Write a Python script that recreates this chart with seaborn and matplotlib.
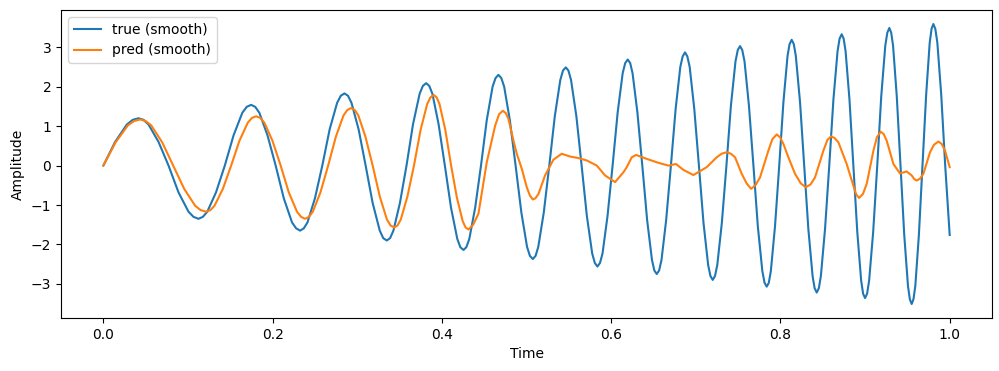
import matplotlib
matplotlib.use("Agg")
import matplotlib.pyplot as plt
import seaborn as sns
import pandas as pd

# ---- data ----
true_t = [
    0.0, 0.0139, 0.0277, 0.0416,
    0.0534, 0.0652, 0.0770, 0.0888, 0.1006, 0.1124,
    0.1228, 0.1331, 0.1435, 0.1539, 0.1642, 0.1746,
    0.1843, 0.1939, 0.2036, 0.2132, 0.2229, 0.2325,
    0.2412, 0.2500, 0.2587, 0.2674, 0.2762, 0.2849,
    0.2932, 0.3016, 0.3099, 0.3182, 0.3266, 0.3349,
    0.3427, 0.3504, 0.3582, 0.3659, 0.3737, 0.3814,
    0.3888, 0.3961, 0.4035, 0.4108, 0.4182, 0.4255,
    0.4324, 0.4393, 0.4462, 0.4530, 0.4599, 0.4668,
    0.4736, 0.4803, 0.4871, 0.4939, 0.5006, 0.5074,
    0.5139, 0.5204, 0.5269, 0.5334, 0.5399, 0.5464,
    0.5526, 0.5589, 0.5651, 0.5713, 0.5776, 0.5838,
    0.5898, 0.5957, 0.6017, 0.6077, 0.6136, 0.6196,
    0.6253, 0.6310, 0.6368, 0.6425, 0.6482, 0.6539,
    0.6595, 0.6650, 0.6706, 0.6762, 0.6817, 0.6873,
    0.6928, 0.6982, 0.7037, 0.7091, 0.7146, 0.7200,
    0.7254, 0.7308, 0.7362, 0.7415, 0.7469, 0.7523,
    0.7576, 0.7628, 0.7681, 0.7733, 0.7786, 0.7838,
    0.7887, 0.7936, 0.7986, 0.8035, 0.8084, 0.8133,
    0.8182, 0.8232, 0.8281, 0.8330, 0.8380, 0.8429,
    0.8478, 0.8527, 0.8577, 0.8626, 0.8675, 0.8724,
    0.8770, 0.8816, 0.8862, 0.8908, 0.8954, 0.9000,
    0.9048, 0.9096, 0.9144, 0.9191, 0.9239, 0.9287,
    0.9331, 0.9375, 0.9419, 0.9463, 0.9507, 0.9551,
    0.9594, 0.9636, 0.9679, 0.9722, 0.9764, 0.9807,
    0.9854, 0.9900, 0.9947, 1.0,
]
true_v = [
    0.0, 0.60, 1.04, 1.20,
    1.04, 0.60, 0.0, -0.68, -1.17, -1.35,
    -1.17, -0.68, 0.0, 0.77, 1.34, 1.54,
    1.34, 0.77, 0.0, -0.83, -1.44, -1.65,
    -1.44, -0.83, 0.0, 0.92, 1.59, 1.83,
    1.59, 0.92, 0.0, -0.95, -1.65, -1.90,
    -1.65, -0.95, 0.0, 1.05, 1.82, 2.09,
    1.82, 1.05, 0.0, -1.07, -1.86, -2.14,
    -1.86, -1.07, 0.0, 1.15, 2.00, 2.30,
    2.00, 1.15, 0.0, -1.19, -2.06, -2.37,
    -2.06, -1.19, 0.0, 1.25, 2.17, 2.49,
    2.17, 1.25, 0.0, -1.28, -2.23, -2.56,
    -2.23, -1.28, 0.0, 1.35, 2.34, 2.69,
    2.34, 1.35, 0.0, -1.38, -2.39, -2.75,
    -2.39, -1.38, 0.0, 1.44, 2.50, 2.87,
    2.50, 1.44, 0.0, -1.45, -2.52, -2.90,
    -2.52, -1.45, 0.0, 1.52, 2.64, 3.03,
    2.64, 1.52, 0.0, -1.54, -2.67, -3.07,
    -2.67, -1.54, 0.0, 1.60, 2.78, 3.19,
    2.78, 1.60, 0.0, -1.61, -2.80, -3.22,
    -2.80, -1.61, 0.0, 1.67, 2.90, 3.33,
    2.90, 1.67, 0.0, -1.68, -2.92, -3.36,
    -2.92, -1.68, 0.0, 1.75, 3.04, 3.49,
    3.04, 1.75, 0.0, -1.76, -3.05, -3.51,
    -3.05, -1.76, 0.0, 1.80, 3.12, 3.59,
    3.12, 1.80, 0.0, -1.76,
]
# extra readings taken just either side of each crest / trough of the true curve
true_crest_t = [
    0.0347, 0.0475, 0.1065, 0.1176, 0.1694, 0.1794, 0.2277, 0.2369,
    0.2805, 0.2891, 0.3307, 0.3388, 0.3775, 0.3851, 0.4218, 0.4289,
    0.4634, 0.4702, 0.5040, 0.5107, 0.5431, 0.5495, 0.5807, 0.5868,
    0.6166, 0.6225, 0.6510, 0.6567, 0.6845, 0.6900, 0.7173, 0.7227,
    0.7496, 0.7549, 0.7812, 0.7863, 0.8108, 0.8158, 0.8404, 0.8454,
    0.8699, 0.8747, 0.8977, 0.9024, 0.9263, 0.9309, 0.9529, 0.9572,
    0.9786, 0.9830,
]
true_crest_v = [
    1.16, 1.16, -1.30, -1.30, 1.49, 1.49, -1.59, -1.59,
    1.77, 1.77, -1.84, -1.84, 2.02, 2.02, -2.07, -2.07,
    2.22, 2.22, -2.29, -2.29, 2.41, 2.41, -2.47, -2.47,
    2.60, 2.60, -2.66, -2.66, 2.77, 2.77, -2.80, -2.80,
    2.93, 2.93, -2.97, -2.97, 3.08, 3.08, -3.11, -3.11,
    3.22, 3.22, -3.25, -3.25, 3.37, 3.37, -3.39, -3.39,
    3.47, 3.47,
]

pred_t = [
    0.0, 0.0145, 0.0290, 0.0435,
    0.0565, 0.0695, 0.0825, 0.0955, 0.1085, 0.1215,
    0.1313, 0.1412, 0.1510, 0.1608, 0.1707, 0.1805,
    0.1902, 0.1998, 0.2095, 0.2191, 0.2288, 0.2384,
    0.2475, 0.2565, 0.2656, 0.2747, 0.2837, 0.2928,
    0.3013, 0.3097, 0.3182, 0.3267, 0.3351, 0.3436,
    0.3514, 0.3592, 0.3670, 0.3748, 0.3826, 0.3904,
    0.3972, 0.4041, 0.4109, 0.4177, 0.4246, 0.4314,
    0.4432, 0.4530, 0.4629, 0.4720, 0.4787, 0.4846,
    0.4885, 0.4944, 0.5003, 0.5074, 0.5141, 0.5219,
    0.5318, 0.5416, 0.5514, 0.5614, 0.5712, 0.5830,
    0.5928, 0.6046, 0.6145, 0.6184, 0.6243, 0.6294,
    0.6420, 0.6559, 0.6677, 0.6766, 0.6854, 0.6972,
    0.7129, 0.7247, 0.7366, 0.7464, 0.7543, 0.7653,
    0.7759, 0.7858, 0.7956, 0.8035, 0.8094, 0.8173,
    0.8299, 0.8409, 0.8508, 0.8598, 0.8685, 0.8783,
    0.8862, 0.8929, 0.9020, 0.9099, 0.9185, 0.9256,
    0.9335, 0.9413, 0.9492, 0.9551, 0.9610, 0.9689,
    0.9768, 0.9866, 0.9945, 1.0,
]
pred_v = [
    0.0, 0.59, 1.02, 1.17,
    1.02, 0.59, 0.0, -0.59, -1.02, -1.17,
    -1.02, -0.59, 0.0, 0.63, 1.09, 1.25,
    1.09, 0.63, 0.0, -0.68, -1.17, -1.35,
    -1.17, -0.68, 0.0, 0.73, 1.27, 1.46,
    1.27, 0.73, 0.0, -0.79, -1.37, -1.57,
    -1.37, -0.79, 0.0, 0.90, 1.56, 1.79,
    1.56, 0.90, 0.0, -0.81, -1.41, -1.62,
    -1.22, 0.08, 1.01, 1.39, 1.18, 0.63,
    0.30, -0.08, -0.55, -0.86, -0.72, -0.25,
    0.15, 0.30, 0.23, 0.19, 0.13, 0.0,
    -0.25, -0.42, -0.17, -0.04, 0.21, 0.27,
    0.17, 0.07, 0.0, 0.04, -0.11, -0.24,
    -0.04, 0.21, 0.34, 0.21, -0.21, -0.59,
    -0.30, 0.38, 0.79, 0.55, 0.21, -0.21,
    -0.55, -0.30, 0.38, 0.74, 0.59, 0.04,
    -0.51, -0.82, -0.46, 0.38, 0.86, 0.63,
    0.04, -0.20, -0.15, -0.25, -0.38, -0.21,
    0.34, 0.61, 0.38, -0.04,
]
# extra readings taken just either side of the crests / troughs of the prediction
pred_crest_t = [
    0.0363, 0.0500, 0.1150, 0.1264, 0.1756, 0.1853, 0.2336, 0.2429,
    0.2883, 0.2970, 0.3394, 0.3475, 0.3865, 0.3938, 0.4280, 0.4370,
    0.4675, 0.4755, 0.5040, 0.5105, 0.7305, 0.7415, 0.7600, 0.7705,
    0.7905, 0.7995, 0.8240, 0.8355, 0.8555, 0.8640, 0.8895, 0.8975,
    0.9140, 0.9220, 0.9580, 0.9650, 0.9815, 0.9905,
]
pred_crest_v = [
    1.13, 1.13, -1.13, -1.13, 1.21, 1.21, -1.30, -1.30,
    1.41, 1.41, -1.52, -1.52, 1.73, 1.73, -1.57, -1.50,
    1.30, 1.33, -0.76, -0.83, 0.30, 0.30, -0.45, -0.50,
    0.67, 0.72, -0.45, -0.48, 0.65, 0.70, -0.73, -0.72,
    0.72, 0.80, -0.34, -0.33, 0.53, 0.55,
]

series_labels = ["true (smooth)", "pred (smooth)"]
x_label = "Time"
y_label = "Amplitude"

df_true = pd.DataFrame({"Time": true_t + true_crest_t,
                        "Amplitude": true_v + true_crest_v}).sort_values("Time")
df_pred = pd.DataFrame({"Time": pred_t + pred_crest_t,
                        "Amplitude": pred_v + pred_crest_v}).sort_values("Time")

fig = plt.figure(figsize=(9.99, 3.71), dpi=100)
ax = fig.add_axes([0.0611, 0.1429, 0.9319, 0.8301])

sns.lineplot(data=df_true, x="Time", y="Amplitude", ax=ax, color="#1f77b4",
             linewidth=1.5, label=series_labels[0], estimator=None, sort=False)
sns.lineplot(data=df_pred, x="Time", y="Amplitude", ax=ax, color="#ff7f0e",
             linewidth=1.5, label=series_labels[1], estimator=None, sort=False)

for line in ax.get_lines():
    line.set_solid_joinstyle("round")

ax.set_xlabel(x_label)
ax.set_ylabel(y_label)
ax.set_xticks([0.0, 0.2, 0.4, 0.6, 0.8, 1.0])
ax.set_yticks([-3, -2, -1, 0, 1, 2, 3])
ax.legend(loc="upper left")

fig.savefig("out.png", dpi=100)
